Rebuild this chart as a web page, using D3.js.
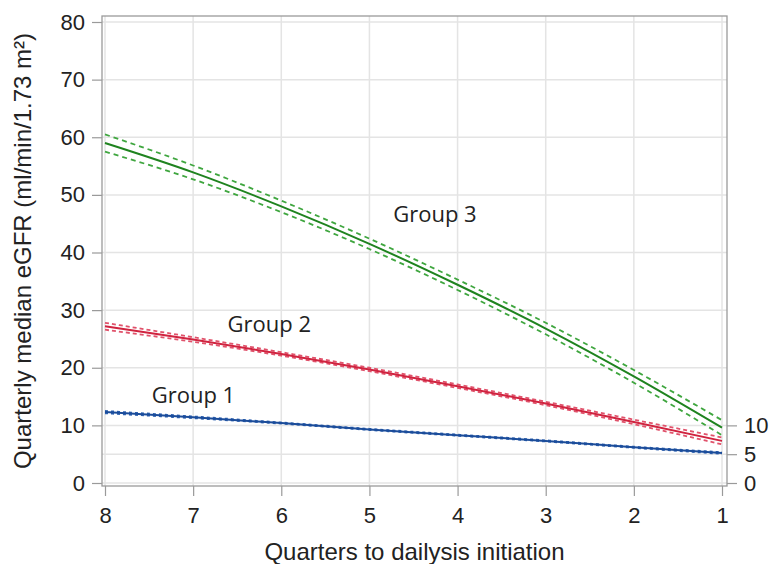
<!DOCTYPE html>
<html>
<head>
<meta charset="utf-8">
<script src="https://cdn.jsdelivr.net/npm/d3@7"></script>
<style>
  body { margin: 0; background: #fff; }
  svg { display: block; }
  .tick text { font-family: "Liberation Sans", Arial, sans-serif; font-size: 22px; fill: #222; }
  .lbl { font-family: "Open Sans", "Noto Sans", sans-serif; font-size: 22px; fill: #222; }
  .title { font-family: "Liberation Sans", Arial, sans-serif; font-size: 24px; fill: #222; }
</style>
</head>
<body>
<div id="chart"></div>
<script>
// quarters before dialysis initiation
const quarters = [8, 7, 6, 5, 4, 3, 2, 1];

// group 3 (green)
const g3Mean = [59.0, 53.9, 48.0, 41.5, 34.4, 26.8, 18.5, 9.6];
const g3Low  = [57.5, 52.7, 47.0, 40.6, 33.5, 25.8, 17.4, 8.3];
const g3High = [60.5, 55.1, 49.0, 42.4, 35.3, 27.8, 19.6, 10.9];

// group 2 (red)
const g2Mean = [27.2, 24.9, 22.4, 19.7, 16.8, 13.8, 10.6, 7.3];
const g2Low  = [26.6, 24.5, 22.1, 19.4, 16.5, 13.5, 10.2, 6.7];
const g2High = [27.8, 25.3, 22.7, 20.0, 17.1, 14.1, 11.0, 7.9];

// group 1 (blue)
const g1Mean = [12.3, 11.4, 10.4, 9.3, 8.3, 7.3, 6.2, 5.2];
const g1Low  = [12.1, 11.25, 10.3, 9.2, 8.2, 7.2, 6.1, 5.05];
const g1High = [12.5, 11.55, 10.5, 9.4, 8.4, 7.4, 6.3, 5.35];

const leftTicks = [0, 10, 20, 30, 40, 50, 60, 70, 80];
const rightTicks = [0, 5, 10];

const groups = [
  { name: "Group 3", mean: g3Mean, low: g3Low, high: g3High, color: "#1f831f", ci: "#3fa63f", dash: "5,4", at: [4.73, 46.7] },
  { name: "Group 2", mean: g2Mean, low: g2Low, high: g2High, color: "#d0233f", ci: "#e0526b", dash: "4,3", at: [6.61, 27.6] },
  { name: "Group 1", mean: g1Mean, low: g1Low, high: g1High, color: "#1b4c9a", ci: "#2f62b0", dash: "3,3", at: [7.47, 15.3] }
];

const width = 771, height = 564;
const frame = { left: 102, right: 727, top: 16, bottom: 486 };

const svg = d3.select("#chart").append("svg")
  .attr("width", width)
  .attr("height", height);

const x = d3.scaleLinear().domain([8, 1]).range([105, 722]);
const y = d3.scaleLinear().domain([0, 80]).range([483, 22]);

// grid
svg.append("g")
  .selectAll("line")
  .data(quarters)
  .join("line")
  .attr("x1", d => x(d)).attr("x2", d => x(d))
  .attr("y1", frame.top).attr("y2", frame.bottom)
  .attr("stroke", "#e4e4e4").attr("stroke-width", 1.5);

svg.append("g")
  .selectAll("line")
  .data(Array.from(new Set(leftTicks.concat(rightTicks))))
  .join("line")
  .attr("x1", frame.left).attr("x2", frame.right)
  .attr("y1", d => y(d)).attr("y2", d => y(d))
  .attr("stroke", "#e4e4e4").attr("stroke-width", 1.5);

// axes
const axisColor = "#9a9a9a";

const gl = svg.append("g")
  .attr("transform", `translate(${frame.left},0)`)
  .call(d3.axisLeft(y).tickValues(leftTicks).tickSize(10).tickPadding(7));
const gr = svg.append("g")
  .attr("transform", `translate(${frame.right},0)`)
  .call(d3.axisRight(y).tickValues(rightTicks).tickSize(10).tickPadding(7));
const gb = svg.append("g")
  .attr("transform", `translate(0,${frame.bottom})`)
  .call(d3.axisBottom(x).tickValues(quarters).tickFormat(d3.format("d")).tickSize(10).tickPadding(11));

[gl, gr, gb].forEach(g => {
  g.select(".domain").remove();
  g.selectAll(".tick line").attr("stroke", axisColor).attr("stroke-width", 1.2);
});

// frame
svg.append("rect")
  .attr("x", frame.left).attr("y", frame.top)
  .attr("width", frame.right - frame.left)
  .attr("height", frame.bottom - frame.top)
  .attr("fill", "none")
  .attr("stroke", axisColor).attr("stroke-width", 1.3);

// curves
const line = d3.line()
  .x((d, i) => x(quarters[i]))
  .y(d => y(d))
  .curve(d3.curveMonotoneX);

groups.forEach(g => {
  [g.low, g.high].forEach(arr => {
    svg.append("path")
      .attr("d", line(arr))
      .attr("fill", "none")
      .attr("stroke", g.ci)
      .attr("stroke-width", 1.8)
      .attr("stroke-dasharray", g.dash);
  });
  svg.append("path")
    .attr("d", line(g.mean))
    .attr("fill", "none")
    .attr("stroke", g.color)
    .attr("stroke-width", 2);

  svg.append("text")
    .attr("class", "lbl")
    .attr("x", x(g.at[0]))
    .attr("y", y(g.at[1]))
    .attr("dy", "0.35em")
    .text(g.name);
});

// axis titles
svg.append("text")
  .attr("class", "title")
  .attr("transform", `translate(31,${(frame.top + frame.bottom) / 2}) rotate(-90)`)
  .attr("text-anchor", "middle")
  .text("Quarterly median eGFR (ml/min/1.73 m²)");

svg.append("text")
  .attr("class", "title")
  .attr("x", (frame.left + frame.right) / 2)
  .attr("y", 560)
  .attr("text-anchor", "middle")
  .text("Quarters to dailysis initiation");
</script>
</body>
</html>
